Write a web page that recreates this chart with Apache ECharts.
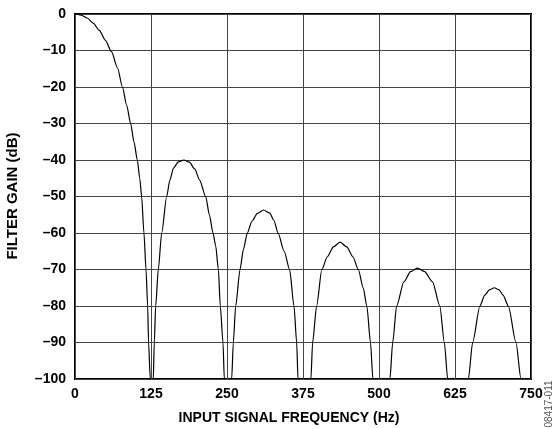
<!DOCTYPE html>
<html>
<head>
<meta charset="utf-8">
<script src="https://cdn.jsdelivr.net/npm/echarts@6/dist/echarts.min.js"></script>
<style>
  html, body { margin: 0; padding: 0; background: #fff; }
  #chart { width: 559px; height: 429px; }
</style>
</head>
<body>
<div id="chart"></div>
<script>
// tick labels
var freqTicks = [0, 125, 250, 375, 500, 625, 750];
var gainTicks = [0, -10, -20, -30, -40, -50, -60, -70, -80, -90, -100];

// [Hz, dB], one array per lobe
var mainLobe = [[0, 0], [10, -0.3], [20, -1.1], [30, -2.5], [40, -4.5], [50, -7.2], [60, -10.3],
  [70, -14.8], [78, -20], [85, -25], [91.5, -30], [97, -35], [102.5, -40], [106.5, -45],
  [109.6, -50], [113.4, -60], [116.8, -70], [119.5, -80], [121, -90], [123.8, -100], [125, -130]];
var sideLobe1 = [[125, -130], [128.8, -100], [130.4, -90], [132.7, -80], [137, -70], [142.6, -60],
  [150.8, -50], [156, -45.5], [162, -42.2], [170, -40.5], [179, -40], [188, -40.6], [197, -42.5],
  [205, -45.5], [215, -50], [221, -55], [227, -60], [231.4, -63.5], [235.8, -70], [239, -80],
  [243.4, -90], [245.6, -100], [250, -130]];
var sideLobe2 = [[250, -130], [257.7, -100], [260.4, -90], [264.3, -80], [271.4, -70], [277, -64.5],
  [283.4, -60], [291, -56.8], [300, -54.6], [310, -53.7], [320, -54.5], [327, -56.5], [334, -60],
  [344, -65], [353, -70], [360.2, -80], [364.6, -90], [366.8, -100], [375, -130]];
var sideLobe3 = [[375, -130], [388, -100], [390.8, -90], [397.4, -80], [406, -70], [415, -66.5],
  [425, -63.8], [436, -62.5], [447, -63.8], [457, -66.5], [466, -70], [474, -75], [480, -80],
  [486, -90], [490, -100], [500, -130]];
var sideLobe4 = [[500, -130], [518, -100], [522.5, -90], [529, -80], [541, -73.4], [552, -70.6],
  [563, -69.6], [575, -70.6], [588, -73.4], [600, -80], [607.5, -90], [613, -100], [625, -130]];
var sideLobe5 = [[625, -130], [647, -100], [654, -90], [666, -80], [674, -77], [682, -75.5],
  [689.6, -75], [697, -75.5], [704, -77], [712.7, -80], [725.3, -90], [733.5, -100], [750, -130]];

var curve = mainLobe.concat(sideLobe1.slice(1), sideLobe2.slice(1), sideLobe3.slice(1),
  sideLobe4.slice(1), sideLobe5.slice(1));

var chart = echarts.init(document.getElementById('chart'));
var labelFont = { color: '#000', fontFamily: 'Liberation Sans', fontWeight: 'bold', fontSize: 14 };

chart.setOption({
  animation: false,
  grid: { left: 75, right: 28, top: 14, bottom: 50, show: true, borderColor: '#000', borderWidth: 2 },
  xAxis: {
    type: 'value', min: freqTicks[0], max: freqTicks[freqTicks.length - 1], interval: 125,
    axisLine: { show: false }, axisTick: { show: false },
    splitLine: { lineStyle: { color: '#444', width: 1 } },
    axisLabel: Object.assign({ margin: 8 }, labelFont)
  },
  yAxis: {
    type: 'value', min: gainTicks[gainTicks.length - 1], max: gainTicks[0], interval: 10,
    axisLine: { show: false }, axisTick: { show: false },
    splitLine: { lineStyle: { color: '#444', width: 1 } },
    axisLabel: Object.assign({
      margin: 9,
      formatter: function (v) { return String(v).replace('-', '\u2013'); }
    }, labelFont)
  },
  graphic: [
    { type: 'text', x: 289, y: 418, style: { text: 'INPUT SIGNAL FREQUENCY (Hz)',
      align: 'center', verticalAlign: 'middle', fill: '#000', font: 'bold 14px "Liberation Sans"' } },
    { type: 'text', x: 13, y: 196, rotation: Math.PI / 2, style: { text: 'FILTER GAIN (dB)',
      align: 'center', verticalAlign: 'middle', fill: '#000', font: 'bold 15px "Liberation Sans"' } },
    { type: 'text', x: 549, y: 404, rotation: Math.PI / 2, style: { text: '08417-011',
      align: 'center', verticalAlign: 'middle', fill: '#555', font: '10px "Liberation Sans"' } }
  ],
  series: [{
    type: 'line',
    data: curve,
    showSymbol: false,
    clip: true,
    smooth: 0.25,
    smoothMonotone: 'x',
    lineStyle: { color: '#000', width: 1.2 }
  }]
});
</script>
</body>
</html>
